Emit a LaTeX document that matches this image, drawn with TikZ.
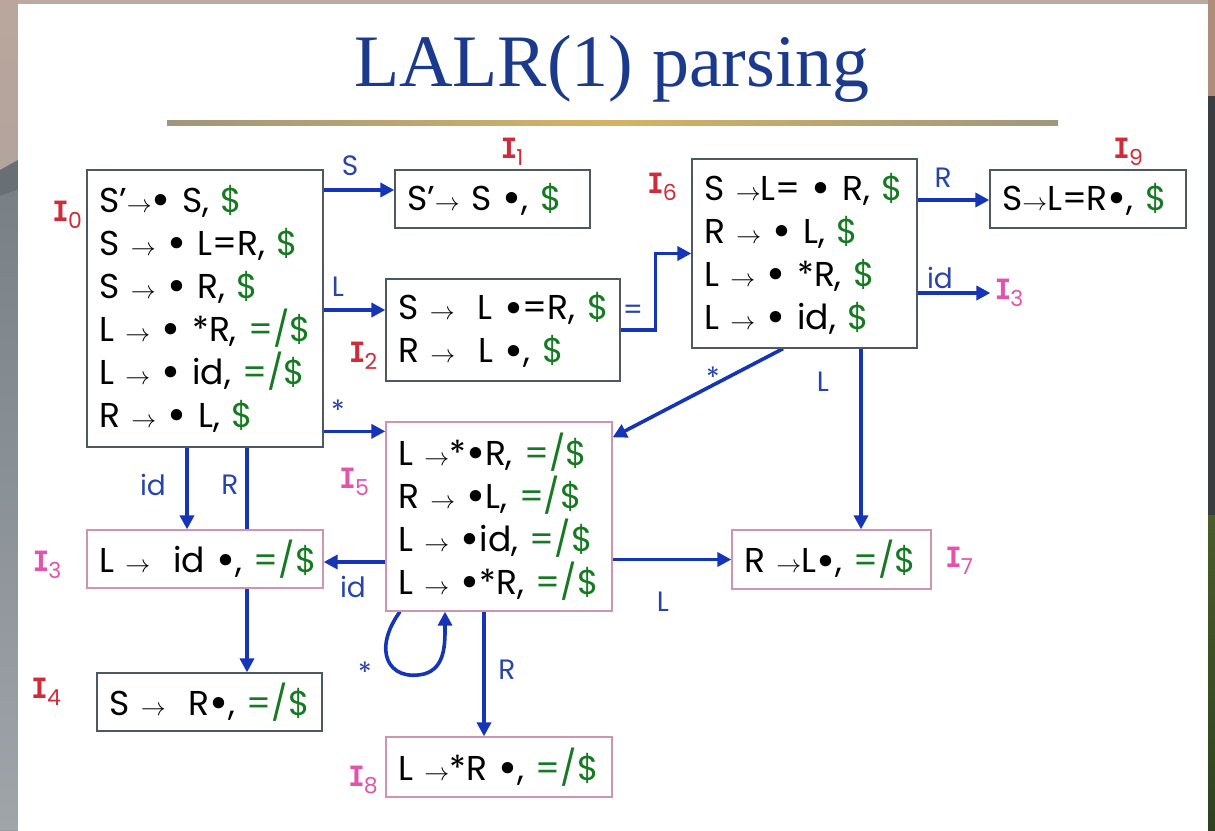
\documentclass[tikz,border=0pt]{standalone}
\usepackage{fontspec}
\setmainfont{Poppins}
\newfontfamily\titlefont{Liberation Serif}
\newfontfamily\statefont{DejaVu Sans Mono}
\usetikzlibrary{arrows.meta}

\pgfdeclarelayer{backdrop}
\pgfdeclarelayer{edges}
\pgfsetlayers{backdrop,edges,main}

\definecolor{titleblue}{RGB}{28,58,140}
\definecolor{arrowblue}{RGB}{22,52,182}
\definecolor{labelblue}{RGB}{40,68,168}
\definecolor{lagreen}{RGB}{22,122,34}
\definecolor{statered}{RGB}{206,44,58}
\definecolor{statepink}{RGB}{226,84,172}
\definecolor{boxgrey}{RGB}{78,88,98}
\definecolor{boxpink}{RGB}{204,150,176}
\definecolor{rulegold}{RGB}{212,180,100}
\definecolor{rulegrey}{RGB}{160,150,125}

% pieces of an LR(1) item
\newcommand\prodarrow{$\rightarrow$}
\newcommand\itemdot{\raisebox{-0.1em}{\fontsize{46}{43}\selectfont\textbullet}}
\newcommand\lookahead[1]{\textcolor{lagreen}{#1}}
\newcommand\itemline[1]{\mbox{#1}}
\newcommand\statename[1]{{\statefont\bfseries\fontsize{28}{28}\selectfont I}\kern-1pt\raisebox{-0.24em}{\fontsize{22}{22}\selectfont #1}}

\tikzset{
  itembox/.style={draw=boxgrey, line width=1.3pt, fill=white, align=left,
    inner xsep=12pt, inner ysep=0pt, anchor=center,
    font=\fontsize{34.5}{43}\selectfont},
  pinkbox/.style={itembox, draw=boxpink},
  arr/.style={draw=arrowblue, line width=3.6pt,
    -{Triangle[length=14pt,width=14pt]}},
  edgelabel/.style={text=labelblue, font=\fontsize{28}{28}\selectfont, inner sep=0pt},
  redname/.style={text=statered, font=\fontsize{28}{28}\selectfont, inner sep=0pt},
  pinkname/.style={text=statepink, font=\fontsize{28}{28}\selectfont, inner sep=0pt},
}

\begin{document}
\begin{tikzpicture}[x=1pt,y=-1pt]
\useasboundingbox (0,0) rectangle (1215,830);

% slide backdrop and white page
\begin{pgfonlayer}{backdrop}
  \fill[color={rgb,255:red,188;green,170;blue,160}] (0,0) rectangle (1215,830);
  \shade[top color={rgb,255:red,186;green,166;blue,156},
         bottom color={rgb,255:red,150;green,156;blue,162}] (0,0) rectangle (18,830);
  \fill[color={rgb,255:red,104;green,112;blue,118}] (0,170) -- (18,160) -- (18,190) -- (0,196) -- cycle;
  \shade[top color={rgb,255:red,120;green,128;blue,134},
         bottom color={rgb,255:red,160;green,165;blue,170}] (0,196) -- (18,190) -- (18,830) -- (0,830) -- cycle;
  \fill[color={rgb,255:red,172;green,142;blue,122}] (1208,0) rectangle (1215,96);
  \fill[color={rgb,255:red,58;green,62;blue,66}] (1208,96) rectangle (1215,515);
  \shade[top color={rgb,255:red,74;green,92;blue,42},
         bottom color={rgb,255:red,46;green,66;blue,32}] (1208,515) rectangle (1215,830);
  \fill[white] (18,4) rectangle (1208,830);
  % title rule
  \shade[left color=rulegrey, right color=rulegrey, middle color=rulegold]
    (167,120) rectangle (1058,125);
\end{pgfonlayer}

% title
\node[anchor=base, text=titleblue, font=\titlefont\fontsize{74}{74}\selectfont, inner sep=0pt]
  (title) at (612,86) {LALR(1) parsing};

% item sets
\node[itembox, minimum width=236pt, minimum height=277pt, text width=212pt] (I0) at (205,308.5)
  {\itemline{S'\prodarrow\itemdot\ S, \lookahead{\$}}\\
   \itemline{S \prodarrow\ \itemdot\ L=R, \lookahead{\$}}\\
   \itemline{S \prodarrow\ \itemdot\ R, \lookahead{\$}}\\
   \itemline{L \prodarrow\ \itemdot\ *R, \lookahead{=/\$}}\\
   \itemline{L \prodarrow\ \itemdot\ id, \lookahead{=/\$}}\\
   \itemline{R \prodarrow\ \itemdot\ L, \lookahead{\$}}};
\node[itembox, minimum width=195pt, minimum height=58pt, text width=171pt] (I1) at (492.5,199)
  {\itemline{S'\prodarrow\ S \itemdot, \lookahead{\$}}};
\node[itembox, minimum width=234pt, minimum height=102pt, text width=210pt] (I2) at (503,330)
  {\itemline{S \prodarrow\ \ L \itemdot=R, \lookahead{\$}}\\
   \itemline{R \prodarrow\ \ L \itemdot, \lookahead{\$}}};
\node[itembox, minimum width=225pt, minimum height=189pt, text width=201pt] (I6) at (804.5,253.5)
  {\itemline{S \prodarrow L= \itemdot\ R, \lookahead{\$}}\\
   \itemline{R \prodarrow\ \itemdot\ L, \lookahead{\$}}\\
   \itemline{L \prodarrow\ \itemdot\ *R, \lookahead{\$}}\\
   \itemline{L \prodarrow\ \itemdot\ id, \lookahead{\$}}};
\node[itembox, minimum width=196pt, minimum height=58pt, text width=172pt] (I9) at (1088,199)
  {\itemline{S\prodarrow L=R\itemdot, \lookahead{\$}}};
\node[pinkbox, minimum width=226pt, minimum height=189pt, text width=202pt] (I5) at (499,516.5)
  {\itemline{L \prodarrow*\itemdot R, \lookahead{=/\$}}\\
   \itemline{R \prodarrow\ \itemdot L, \lookahead{=/\$}}\\
   \itemline{L \prodarrow\ \itemdot id, \lookahead{=/\$}}\\
   \itemline{L \prodarrow\ \itemdot*R, \lookahead{=/\$}}};
\node[pinkbox, minimum width=236pt, minimum height=58pt, text width=212pt] (I3) at (205,559)
  {\itemline{L \prodarrow\ \ id \itemdot, \lookahead{=/\$}}};
\node[pinkbox, minimum width=199pt, minimum height=59pt, text width=175pt] (I7) at (831.5,559.5)
  {\itemline{R \prodarrow L\itemdot, \lookahead{=/\$}}};
\node[itembox, minimum width=225pt, minimum height=58pt, text width=201pt] (I4) at (209.5,702)
  {\itemline{S \prodarrow\ \ R\itemdot, \lookahead{=/\$}}};
\node[pinkbox, minimum width=226pt, minimum height=60pt, text width=202pt] (I8) at (499,767)
  {\itemline{L \prodarrow*R \itemdot, \lookahead{=/\$}}};

% state names
\node[redname]  (n0) at (67,215)   {\statename{0}};
\node[redname]  (n1) at (512,152)  {\statename{1}};
\node[redname]  (n2) at (363,356)  {\statename{2}};
\node[redname]  (n6) at (662,187)  {\statename{6}};
\node[redname]  (n9) at (1128,152) {\statename{9}};
\node[pinkname] (n5) at (354,482)  {\statename{5}};
\node[pinkname] (n3) at (47,565)   {\statename{3}};
\node[redname]  (n4) at (46,692)   {\statename{4}};
\node[pinkname] (n7) at (959,561)  {\statename{7}};
\node[pinkname] (n8) at (363,780)  {\statename{8}};
\node[pinkname] (n3b) at (1009,293) {\statename{3}};

% attachment points of the transitions
\coordinate (lcol) at (861,0);
\coordinate (in1) at ([yshift=9pt]I1.west);
\coordinate (in2) at ([yshift=20pt]I2.west);
\coordinate (in5) at ([yshift=-10pt]I5.north west);
\coordinate (in9) at ([yshift=-1pt]I9.west);
\coordinate (in3) at ([yshift=-3pt]I3.east);
\coordinate (in3b) at ([xshift=-4pt]n3b.west);

\begin{pgfonlayer}{edges}
  \draw[arr] (I0.east |- in1) -- (in1);
  \draw[arr] (I0.east |- in2) -- (in2);
  \draw[arr] (I0.east |- in5) -- (in5);
  \draw[arr] ([xshift=-18pt]I0.south) -- ([xshift=-18pt]I3.north);
  \draw[arr] ([xshift=42pt]I0.south) -- ([xshift=37.5pt]I4.north);
  \draw[arr] (I2.east) -- ++(35,0) |- (I6.west);
  \draw[arr] (I6.east |- in9) -- (in9);
  \draw[arr] (I6.east |- in3b) -- (in3b);
  \draw[arr] ([xshift=-21.5pt]I6.south) -- ([yshift=-16pt]I5.north east);
  \draw[arr] (I6.south -| lcol) -- (I7.north -| lcol);
  \draw[arr] (I5.east |- I7.west) -- (I7.west);
  \draw[arr] (I5.west |- in3) -- (in3);
  \draw[arr] ([xshift=-99pt]I5.south) .. controls (372,650) and (388,682) .. (424,674)
             .. controls (446,668) and (445,642) .. ([xshift=-54pt]I5.south);
  \draw[arr] ([xshift=-15pt]I5.south) -- ([xshift=-15pt]I8.north);
\end{pgfonlayer}

% transition symbols
\node[edgelabel] (tS)  at (350,166) {S};
\node[edgelabel] (tL)  at (338,287) {L};
\node[edgelabel] (ts1) at (338,410) {*};
\node[edgelabel] (tid) at (153,485) {id};
\node[edgelabel] (tR)  at (230,485) {R};
\node[edgelabel] (teq) at (633,312) {=};
\node[edgelabel] (tR6) at (943,178) {R};
\node[edgelabel] (ti6) at (940,278) {id};
\node[edgelabel] (ts6) at (713,377) {*};
\node[edgelabel] (tL6) at (823,382) {L};
\node[edgelabel] (tL5) at (663,602) {L};
\node[edgelabel] (ti5) at (353,587) {id};
\node[edgelabel] (ts5) at (365,672) {*};
\node[edgelabel] (tR5) at (507,670) {R};
\end{tikzpicture}
\end{document}
